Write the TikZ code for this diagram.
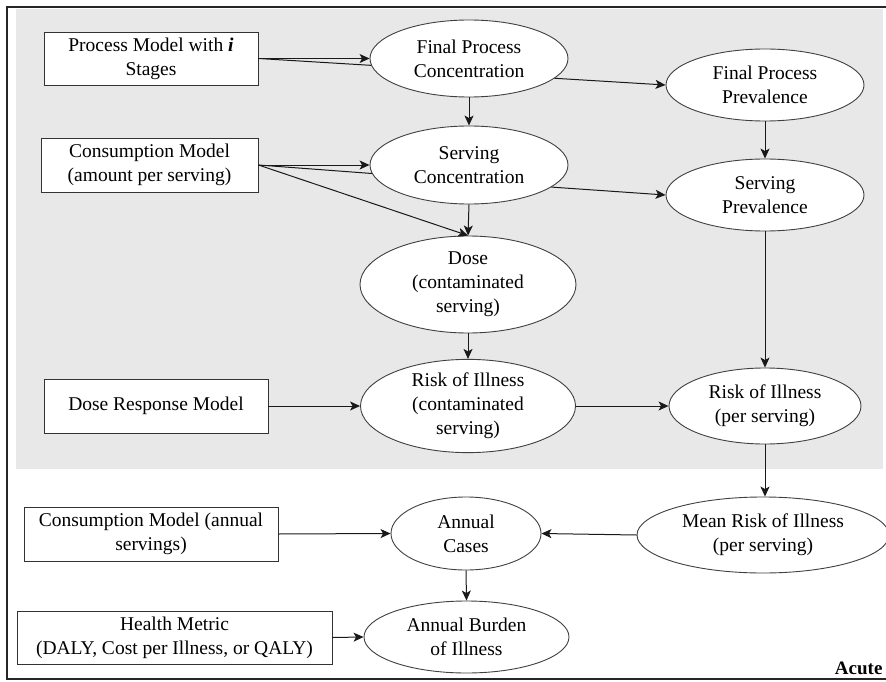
\documentclass[tikz,border=0pt]{standalone}
\usepackage{fontspec}
\setmainfont{Liberation Serif}
\usetikzlibrary{arrows,arrows.meta,shapes.geometric}
\tikzset{
>={Stealth[length=10pt,width=9pt,inset=2.5pt]},
  modelbox/.style={
    rectangle,
    fill=white,
    draw=black!80, line width=0.9pt,
    % text width=12em,
    inner sep=0pt,
    align=center,
    font=\fontsize{19.5}{24}\selectfont},
  quantity/.style={
    ellipse,
    fill=white,
    draw=black!75, line width=0.9pt,
    inner sep=0pt,
    align=center,
    font=\fontsize{19.5}{24}\selectfont},
  line/.style={draw=black!90, line width=1pt, ->},
  plainline/.style={draw=black!90, line width=1pt},
  frame/.style={draw=black!85, line width=2pt},
  shade/.style={fill=black!9},
}

\begin{document}
\begin{tikzpicture}
[x=1pt, y=-1pt]
    \useasboundingbox (0,0) rectangle (886,682);
    \fill[shade] (16,9) rectangle (883,469);
    \draw[frame] (7,7) rectangle (900,679);

    % inputs
    \node [modelbox, minimum width=214pt, minimum height=53pt](procmodel) at (151,58.5)
                                                        {Process Model with \textbf{\textit{i}}\\Stages};
    \node [modelbox, minimum width=217pt, minimum height=54pt](consmodel) at (149.5,165)
                                                        {Consumption Model\\(amount per serving)};
    \node [modelbox, minimum width=224pt, minimum height=54pt](doseresp) at (156,406){Dose Response Model};
    \node [modelbox, minimum width=254pt, minimum height=54pt](consannual) at (151,534)
                                                        {Consumption Model (annual\\servings)};
    \node [modelbox, minimum width=315pt, minimum height=53pt](healthmetric) at (174.5,637.5)
                                                        {Health Metric\\(DALY, Cost per Illness, or QALY)};

    % quantities
    \node [quantity, minimum width=198pt, minimum height=77pt](finalconc) at (469,58.5){Final Process\\Concentration};
    \node [quantity, minimum width=198pt, minimum height=72pt](finalprev) at (765,85){Final Process\\Prevalence};
    \node [quantity, minimum width=198pt, minimum height=78pt](servconc) at (469,165){Serving\\Concentration};
    \node [quantity, minimum width=198pt, minimum height=72pt](servprev) at (765,195){Serving\\Prevalence};
    \node [quantity, minimum width=216pt, minimum height=97pt](dose) at (468,284.5){Dose\\(contaminated\\serving)};
    \node [quantity, minimum width=215pt, minimum height=92pt](riskcont) at (468,406)
                                                        {Risk of Illness\\(contaminated\\serving)};
    \node [quantity, minimum width=192pt, minimum height=76pt](riskserv) at (765,406){Risk of Illness\\(per serving)};
    \node [quantity, minimum width=252pt, minimum height=76pt](meanrisk) at (763,535)
                                                        {Mean Risk of Illness\\(per serving)};
    \node [quantity, minimum width=150pt, minimum height=73pt](cases) at (466,533.5){Annual\\Cases};
    \node [quantity, minimum width=205pt, minimum height=72pt](burden) at (466.5,637){Annual Burden\\of Illness};

    \node [font=\bfseries\fontsize{19}{22}\selectfont, anchor=base east](acute) at (886,674){Acute};

    \draw[line] (procmodel.east) -- (finalconc.west);
    \draw[plainline] (procmodel.east) -- (finalconc.184);
    \draw[line] (finalconc.-13) -- (finalprev.west);
    \draw[line] (finalconc.south) -- (servconc.north);
    \draw[line] (finalprev.south) -- (servprev.north);
    \draw[line] (consmodel.east) -- (servconc.west);
    \draw[plainline] (consmodel.east) -- (servconc.185);
    \draw[line] (consmodel.east) -- (dose.north);
    \draw[line] (servconc.-15) -- (servprev.west);
    \draw[line] (servconc.south) -- (dose.north);
    \draw[line] (dose.south) -- (riskcont.north);
    \draw[line] (doseresp.east) -- (riskcont.west);
    \draw[line] (riskcont.east) -- (riskserv.west);
    \draw[line] (servprev.south) -- (riskserv.north);
    \draw[line] (riskserv.south) -- (riskserv.south |- meanrisk.north);
    \draw[line] (meanrisk.west) -- (cases.east);
    \draw[line] (consannual.east) -- (cases.west);
    \draw[line] (cases.south) -- (burden.north);
    \draw[line] (healthmetric.east) -- (burden.west);

\end{tikzpicture}
\end{document}
